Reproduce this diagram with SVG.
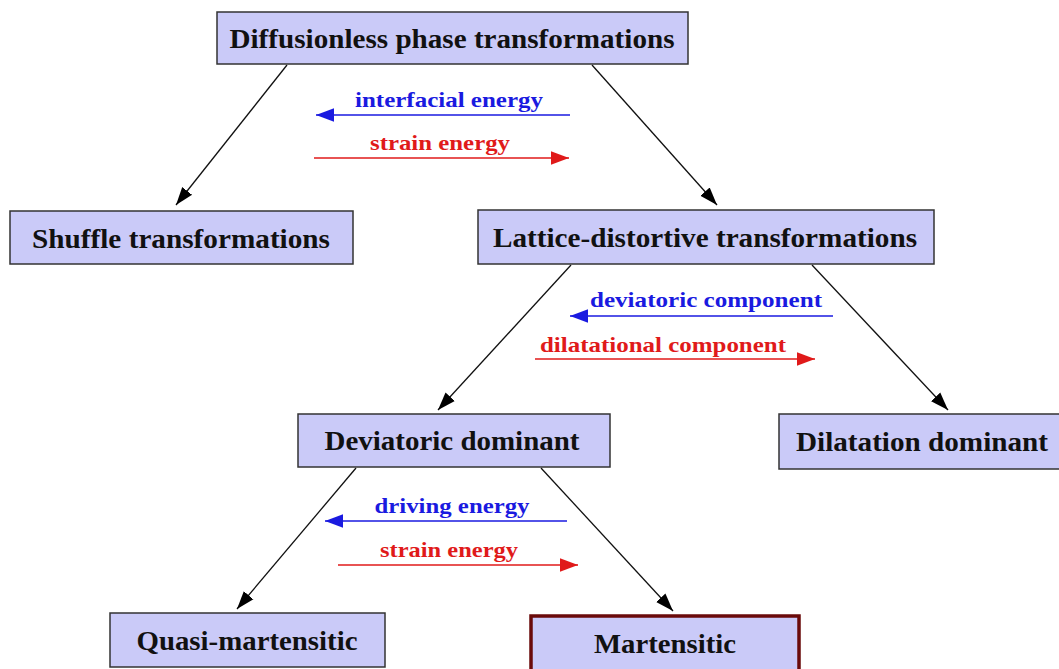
<svg xmlns="http://www.w3.org/2000/svg" width="1059" height="669" viewBox="0 0 1059 669">
<style>
.box{fill:#cacaf8;stroke:#333;stroke-width:1.5}
.mbox{fill:#cacaf8;stroke:#6a0a0a;stroke-width:3.5}
.t{font-family:"Liberation Serif","Times New Roman",serif;font-weight:bold;font-size:28px;fill:#111;text-anchor:middle}
.lb{font-family:"Liberation Serif","Times New Roman",serif;font-weight:bold;font-size:21px;text-anchor:middle}
.blue{fill:#1a1ae0}
.red{fill:#e01a1a}
.edge{stroke:#111;stroke-width:1.3;fill:none}
.bl{stroke:#1a1ae0;stroke-width:1.5;fill:none}
.rl{stroke:#e01a1a;stroke-width:1.5;fill:none}
</style>
<defs>
<marker id="ak" viewBox="0 0 10 10" refX="10" refY="5" markerWidth="18" markerHeight="18" markerUnits="userSpaceOnUse" orient="auto"><path d="M0,1.5 L10,5 L0,8.5 z" fill="#000"/></marker>
<marker id="ab" viewBox="0 0 10 10" refX="10" refY="5" markerWidth="18" markerHeight="18" markerUnits="userSpaceOnUse" orient="auto"><path d="M0,1.2 L10,5 L0,8.8 z" fill="#1a1ae0"/></marker>
<marker id="ar" viewBox="0 0 10 10" refX="10" refY="5" markerWidth="18" markerHeight="18" markerUnits="userSpaceOnUse" orient="auto"><path d="M0,1.2 L10,5 L0,8.8 z" fill="#e01a1a"/></marker>
</defs>
<rect width="1059" height="669" fill="#fff"/>
<g id="connectors">
<line class="edge" x1="287" y1="65" x2="176" y2="205" marker-end="url(#ak)"/>
<line class="edge" x1="592" y1="65" x2="717" y2="205" marker-end="url(#ak)"/>
<line class="edge" x1="571" y1="265" x2="438" y2="410" marker-end="url(#ak)"/>
<line class="edge" x1="812" y1="265" x2="948" y2="410" marker-end="url(#ak)"/>
<line class="edge" x1="356" y1="468" x2="237" y2="609" marker-end="url(#ak)"/>
<line class="edge" x1="541" y1="468" x2="673" y2="611" marker-end="url(#ak)"/>
<line class="bl" x1="570" y1="115" x2="316" y2="115" marker-end="url(#ab)"/>
<text class="lb blue" x="449" y="107" textLength="188" lengthAdjust="spacingAndGlyphs">interfacial energy</text>
<line class="rl" x1="314" y1="158" x2="569" y2="158" marker-end="url(#ar)"/>
<text class="lb red" x="440" y="150" textLength="140" lengthAdjust="spacingAndGlyphs">strain energy</text>
<line class="bl" x1="833" y1="316" x2="570" y2="316" marker-end="url(#ab)"/>
<text class="lb blue" x="706" y="307" textLength="232" lengthAdjust="spacingAndGlyphs">deviatoric component</text>
<line class="rl" x1="535" y1="359" x2="815" y2="359" marker-end="url(#ar)"/>
<text class="lb red" x="663" y="352" textLength="246" lengthAdjust="spacingAndGlyphs">dilatational component</text>
<line class="bl" x1="567" y1="521" x2="325" y2="521" marker-end="url(#ab)"/>
<text class="lb blue" x="452" y="513" textLength="155" lengthAdjust="spacingAndGlyphs">driving energy</text>
<line class="rl" x1="338" y1="565" x2="578" y2="565" marker-end="url(#ar)"/>
<text class="lb red" x="449" y="557" textLength="138" lengthAdjust="spacingAndGlyphs">strain energy</text>
</g>
<g id="n_diffusionless">
<rect class="box" x="217" y="12" width="471" height="52"/>
<text class="t" x="452" y="48" textLength="445" lengthAdjust="spacingAndGlyphs">Diffusionless phase transformations</text>
</g>
<g id="n_shuffle">
<rect class="box" x="10" y="211" width="343" height="53"/>
<text class="t" x="181" y="248" textLength="298" lengthAdjust="spacingAndGlyphs">Shuffle transformations</text>
</g>
<g id="n_lattice">
<rect class="box" x="478" y="210" width="456" height="54"/>
<text class="t" x="705" y="247" textLength="424" lengthAdjust="spacingAndGlyphs">Lattice-distortive transformations</text>
</g>
<g id="n_deviatoric">
<rect class="box" x="298" y="414" width="312" height="53"/>
<text class="t" x="452" y="450" textLength="255" lengthAdjust="spacingAndGlyphs">Deviatoric dominant</text>
</g>
<g id="n_dilatation">
<rect class="box" x="779" y="414" width="290" height="55"/>
<text class="t" x="922" y="451" textLength="252" lengthAdjust="spacingAndGlyphs">Dilatation dominant</text>
</g>
<g id="n_quasi">
<rect class="box" x="110" y="613" width="275" height="54"/>
<text class="t" x="247" y="650" textLength="221" lengthAdjust="spacingAndGlyphs">Quasi-martensitic</text>
</g>
<g id="n_martensitic">
<rect class="mbox" x="531" y="616" width="268" height="60"/>
<text class="t" x="665" y="653" textLength="142" lengthAdjust="spacingAndGlyphs">Martensitic</text>
</g>
</svg>
